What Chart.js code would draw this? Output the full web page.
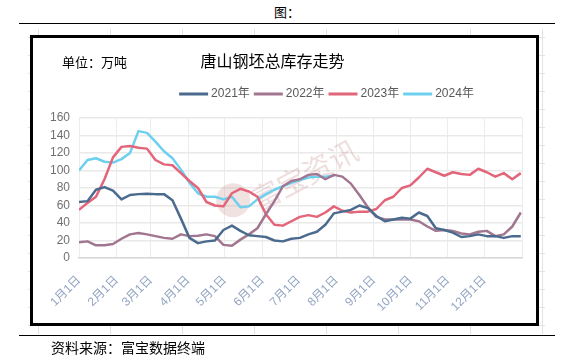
<!DOCTYPE html>
<html><head><meta charset="utf-8">
<script src="https://cdn.jsdelivr.net/npm/chart.js@4"></script>
<style>
html,body{margin:0;padding:0;background:#fff;}
#page{position:relative;width:571px;height:357px;overflow:hidden;font-family:"Noto Sans CJK SC",sans-serif;}
.hl{position:absolute;left:19px;width:536px;height:1px;background:#000;}
#fig{position:absolute;left:274px;top:2px;font-size:13px;color:#000;}
#grid{position:absolute;left:28px;top:29px;width:517px;height:305px;
 background-image:linear-gradient(to right,#e2e2e2 1px,transparent 1px),linear-gradient(to bottom,#e2e2e2 1px,transparent 1px);
 background-size:72px 18px;background-position:10px 8px;}
#box{position:absolute;left:30px;top:35px;width:503px;height:285px;border:3px solid #000;background:#fff;}
#c{position:absolute;left:0;top:0;}
#src{position:absolute;left:51px;top:337px;font-size:14px;color:#000;}
</style></head>
<body>
<div id="page">
  <div id="fig">图：</div>
  <div class="hl" style="top:23px"></div>
  <div id="grid"></div>
  <div id="box"></div>
  <canvas id="c" width="571" height="357"></canvas>
  <div class="hl" style="top:335px"></div>
  <div id="src">资料来源：富宝数据终端</div>
</div>
<script>
// ---- data ----
const chartTitle = '唐山钢坯总库存走势';
const unitText = '单位：万吨';
const watermarkText = '富宝资讯';
const seriesNames = ['2021年', '2022年', '2023年', '2024年'];
const monthTicks = [0, 31, 59, 90, 120, 151, 181, 212, 243, 273, 304, 334];
const monthLabels = ['1月1日','2月1日','3月1日','4月1日','5月1日','6月1日','7月1日','8月1日','9月1日','10月1日','11月1日','12月1日'];
// day of year for each sample (weekly)
const days = [0,7,14,21,28,35,42,49,56,63,70,77,84,91,98,105,112,119,126,133,140,147,154,161,168,175,182,189,196,203,210,217,224,231,238,245,252,259,266,273,280,287,294,301,308,315,322,329,336,343,350,357,364];
const v2021 = [64,65,78,81,77,67,72,73,73.5,73,73,66,45,23,17,19,20,32,37,31,26,25,24,20,19,22,23,27,30,38,51,53,55,60,57,48,42,44,46,45,52,48,34,32,29,24,25,27,25,25,23,25,25];
const v2022 = [18,19,14.5,14.5,16,22,27,28.6,27,25,23,22,27,25,25.5,27,25,15,14,21,27,34,50,65,82,88,90,95,96,90,95,93,85,72,58,47,44,44,44,44,42,36,31,32,31,28,27,30,31,25,27,36,52];
const v2023 = [55,63,70,90,115,127,128,126,125,112,107,106,97,88,80,64,60,59,74,79,76,70,50,38,37,42,47,49,47,52,59,54,52,53,53,56,66,70,80,83,92,102,98,94,98,96,95,102,98,93,97,90,97];
const v2024 = [100,112,114,110,109,113,120,145,143,133,122,114,101,86,74,70,70,67,70,58,59,67,73,78,82,86,89,92,93,93,94];
const yTicksMax = 160, yStep = 20;
const colors = ['#4b6b8e', '#a27690', '#e2657a', '#6dd0ee'];

const FONT = '"Liberation Sans","Noto Sans CJK SC",sans-serif';
const CJK = '"Noto Sans CJK SC",sans-serif';

function toPoints(vals){ return vals.map((v,i)=>({x:days[i], y:v})); }
const allSeries = [v2021, v2022, v2023, v2024];

const deco = {
  id: 'deco',
  beforeDatasetsDraw(chart){
    const ctx = chart.ctx;
    ctx.save();
    const cx = chart.scales.x.getPixelForValue(127), cy = chart.scales.y.getPixelForValue(66);
    ctx.fillStyle = 'rgba(205,150,150,0.28)';
    ctx.beginPath(); ctx.arc(cx, cy, 17, 0, Math.PI*2); ctx.fill();
    ctx.translate(cx + 20, cy + 2);
    ctx.rotate(-28*Math.PI/180);
    ctx.font = '29px ' + CJK;
    ctx.fillStyle = 'rgba(210,160,160,0.35)';
    ctx.textBaseline = 'middle';
    ctx.fillText(watermarkText, 0, 0);
    ctx.restore();
  },
  afterDraw(chart){
    const ctx = chart.ctx;
    ctx.save();
    ctx.fillStyle = '#000';
    ctx.textBaseline = 'middle';
    ctx.textAlign = 'center';
    ctx.font = '16px ' + CJK;
    ctx.fillText(chartTitle, 272.5, 61);
    ctx.textAlign = 'left';
    ctx.font = '13px ' + CJK;
    ctx.fillText(unitText, 62, 62);
    // legend
    ctx.font = '12px ' + FONT;
    const lineW = 29, gap1 = 3, gap2 = 4;
    const items = chart.data.datasets.map(d => ({label: d.label, color: d.borderColor, w: ctx.measureText(d.label).width}));
    let total = 0;
    items.forEach((it,i)=>{ total += lineW + gap1 + it.w + (i < items.length-1 ? gap2 : 0); });
    let x = 326.5 - total/2;
    const y = 94;
    items.forEach(it => {
      ctx.strokeStyle = it.color; ctx.lineWidth = 3;
      ctx.beginPath(); ctx.moveTo(x, y); ctx.lineTo(x + lineW, y); ctx.stroke();
      x += lineW + gap1;
      ctx.fillStyle = '#595959';
      ctx.fillText(it.label, x, y);
      x += it.w + gap2;
    });
    ctx.restore();
  }
};

new Chart(document.getElementById('c'), {
  type: 'line',
  data: {
    datasets: allSeries.map((vals, i) => ({
      label: seriesNames[i],
      data: toPoints(vals),
      borderColor: colors[i],
      backgroundColor: colors[i],
      borderWidth: 2.5,
      pointRadius: 0,
      tension: 0,
      borderJoinStyle: 'round',
      fill: false
    }))
  },
  options: {
    responsive: false,
    animation: false,
    devicePixelRatio: 1,
    layout: { padding: { left: 0, right: 49, top: 118, bottom: 0 } },
    plugins: { legend: { display: false }, title: { display: false }, tooltip: { enabled: false } },
    scales: {
      x: {
        type: 'linear', min: 0, max: 365,
        afterBuildTicks: (s) => { s.ticks = monthTicks.concat([365]).map(v => ({value: v})); },
        afterFit: (s) => { s.height = 99; },
        ticks: {
          autoSkip: false, minRotation: 45, maxRotation: 45, padding: 15,
          color: '#93a5c2', font: { size: 12, family: FONT },
          callback: (v) => { const k = monthTicks.indexOf(v); return k >= 0 ? monthLabels[k] : ''; }
        },
        grid: { color: '#ececec', lineWidth: 1, drawTicks: false },
        border: { color: '#d9d9d9', width: 1.5 }
      },
      y: {
        min: 0, max: yTicksMax,
        afterFit: (s) => { s.width = 79; },
        ticks: { stepSize: yStep, padding: 9, color: '#707070', font: { size: 12, family: FONT } },
        grid: { color: '#e9e9e9', lineWidth: 1.5, drawTicks: false },
        border: { display: false }
      }
    }
  },
  plugins: [deco]
});
</script>
</body></html>
